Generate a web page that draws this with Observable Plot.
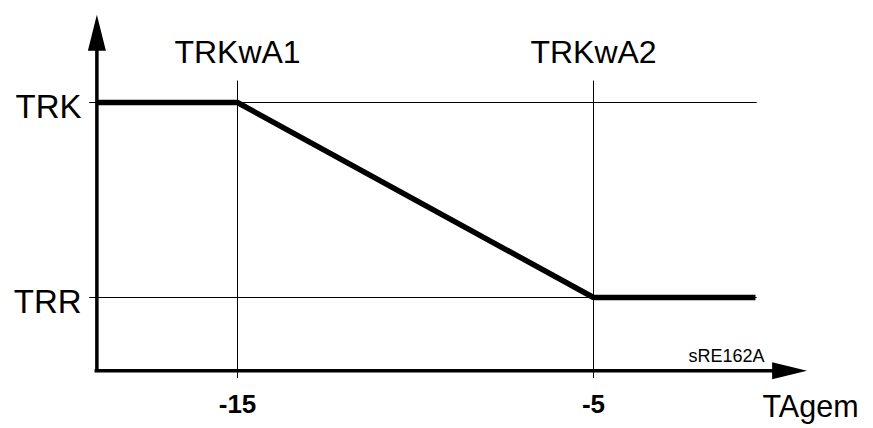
<!DOCTYPE html>
<html>
<head>
<meta charset="utf-8">
<script src="https://cdn.jsdelivr.net/npm/d3@7"></script>
<script src="https://cdn.jsdelivr.net/npm/@observablehq/plot@0.6"></script>
<style>
  html, body { margin: 0; padding: 0; background: #fff; }
  svg { display: block; }
</style>
</head>
<body>
<div id="chart"></div>
<script>
// ---- data ----
const xTicks = [-15, -5];                 // TAgem break points
const xTickLabels = ["-15", "-5"];
const breakLabels = ["TRKwA1", "TRKwA2"];
const yLevels = [1, 0];                   // TRK, TRR (relative levels)
const yLabels = ["TRK", "TRR"];
const curveX = [-18.95, -15, -5, -0.45];  // characteristic curve
const curveY = [1, 1, 0, 0];
const axisOrigin = {x: -18.95, y: -0.375};
const axisEnd = {x: 1.0, y: 1.45};
const gridX = [-19.15, -0.4];             // horizontal guide extent
const gridY = [-0.415, 1.11];             // vertical guide extent
const xTitle = "TAgem";
const codeLabel = "sRE162A";

const font = "Liberation Sans, Arial, Helvetica, sans-serif";

const curve = curveX.map((x, i) => ({x, y: curveY[i]}));

// filled arrowheads (tip at the anchor point)
const arrowUp = {draw(ctx) { ctx.moveTo(0, 0); ctx.lineTo(9, 36); ctx.lineTo(-9, 36); ctx.closePath(); }};
const arrowRight = {draw(ctx) { ctx.moveTo(0, 0); ctx.lineTo(-35, -8.5); ctx.lineTo(-35, 8.5); ctx.closePath(); }};

const chart = Plot.plot({
  width: 873,
  height: 428,
  margin: 0,
  x: {domain: [-15, -5], range: [237, 593], axis: null},
  y: {domain: [0, 1], range: [297, 102], axis: null},
  marks: [
    // thin guide lines
    Plot.ruleY(yLevels, {x1: gridX[0], x2: gridX[1], stroke: "#000", strokeWidth: 1}),
    Plot.ruleX(xTicks, {y1: gridY[0], y2: gridY[1], stroke: "#000", strokeWidth: 1}),
    // axes
    Plot.ruleX([axisOrigin.x], {y1: axisOrigin.y, y2: axisEnd.y - 0.1, stroke: "#000", strokeWidth: 3.5}),
    Plot.ruleY([axisOrigin.y], {x1: axisOrigin.x - 0.05, x2: axisEnd.x - 0.5, stroke: "#000", strokeWidth: 3.5}),
    Plot.dot([{x: axisOrigin.x, y: axisEnd.y}], {x: "x", y: "y", symbol: arrowUp, fill: "#000", stroke: null, r: 5}),
    Plot.dot([{x: axisEnd.x, y: axisOrigin.y}], {x: "x", y: "y", symbol: arrowRight, fill: "#000", stroke: null, r: 5}),
    // characteristic curve
    Plot.line(curve, {x: "x", y: "y", stroke: "#000", strokeWidth: 5.5, strokeLinejoin: "miter", strokeLinecap: "butt"}),
    // labels
    Plot.text(breakLabels, {x: (d, i) => xTicks[i], y: 1.205, text: d => d, fontSize: 32, fontFamily: font, textAnchor: "middle", lineAnchor: "bottom", fill: "#000"}),
    Plot.text(yLabels, {x: -19.38, y: (d, i) => yLevels[i] - 0.077, text: d => d, fontSize: 33, fontFamily: font, textAnchor: "end", lineAnchor: "bottom", fill: "#000"}),
    Plot.text(xTickLabels, {x: (d, i) => xTicks[i], y: -0.59, text: d => d, fontSize: 26, fontWeight: "bold", fontFamily: font, textAnchor: "middle", lineAnchor: "bottom", fill: "#000"}),
    Plot.text([xTitle], {x: -0.253, y: -0.615, text: d => d, fontSize: 30.5, fontFamily: font, textAnchor: "start", lineAnchor: "bottom", fill: "#000"}),
    Plot.text([codeLabel], {x: -2.33, y: -0.333, text: d => d, fontSize: 18, fontFamily: font, textAnchor: "start", lineAnchor: "bottom", fill: "#000"})
  ]
});
document.getElementById("chart").appendChild(chart);
</script>
</body>
</html>
